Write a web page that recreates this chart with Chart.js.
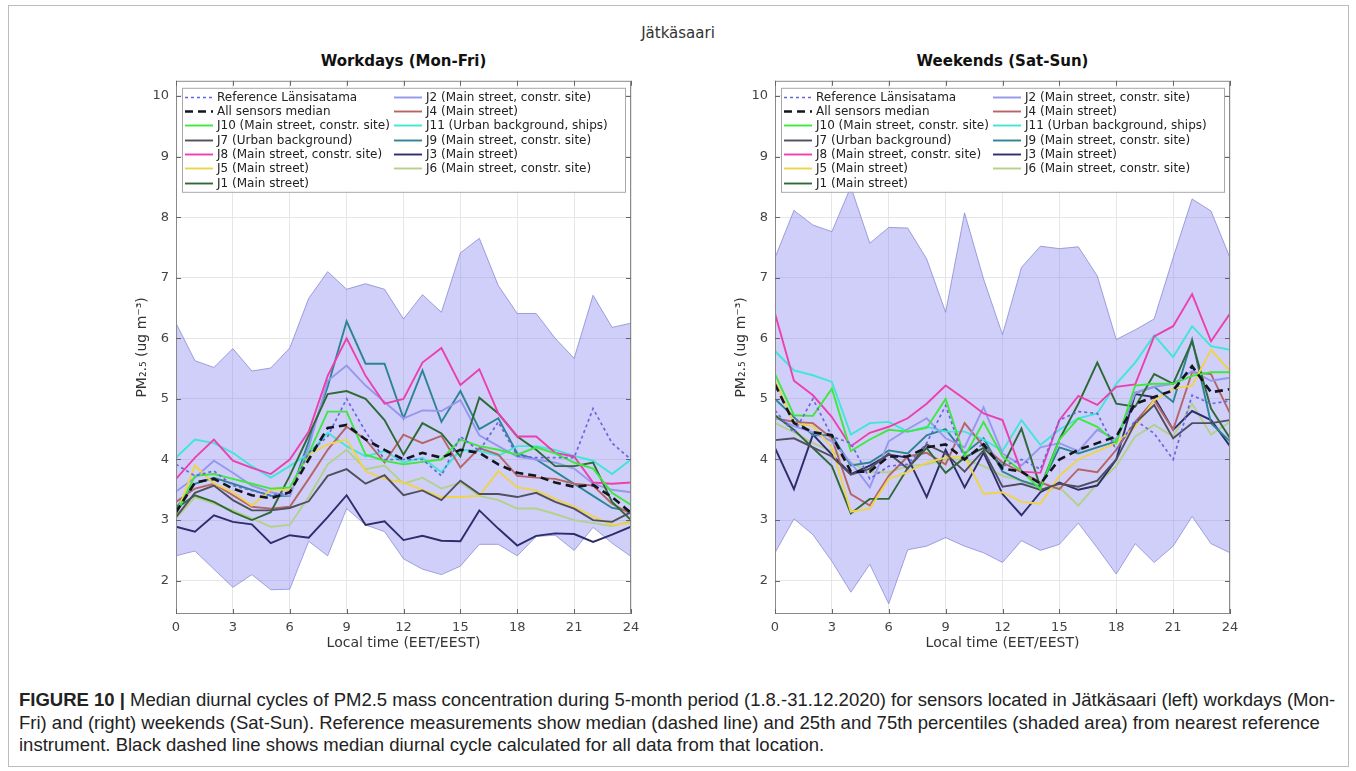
<!DOCTYPE html>
<html>
<head>
<meta charset="utf-8">
<title>Jätkäsaari diurnal cycles</title>
<script src="https://cdn.jsdelivr.net/npm/chart.js"></script>
<style>
    body {
        margin: 0;
        background: #fff;
        width: 1356px;
        height: 771px;
        position: relative;
        overflow: hidden;
        font-family: "DejaVu Sans", sans-serif;
    }

    .frame {
        position: absolute;
        left: 8px;
        top: 5px;
        width: 1339px;
        height: 760px;
        border: 1px solid #bcbcbc;
    }

    .title {
        position: absolute;
        left: 0;
        top: 24px;
        width: 1356px;
        text-align: center;
        font-size: 15px;
        line-height: 18px;
        color: #333;
    }

    .subtitle {
        position: absolute;
        top: 52px;
        width: 455px;
        text-align: center;
        font-size: 15px;
        line-height: 18px;
        font-weight: bold;
        color: #111;
    }

    .plot {
        position: absolute;
        top: 66px;
    }

    .caption {
        position: absolute;
        left: 19px;
        top: 689px;
        font-family: "Liberation Sans Narrow", "Liberation Sans", sans-serif;
        font-size: 18.5px;
        line-height: 22.5px;
        color: #222;
        white-space: nowrap;
    }
</style>
</head>

<body>
    <div class="frame"></div>
    <div class="title">Jätkäsaari</div>
    <div class="subtitle" style="left:176px">Workdays (Mon-Fri)</div>
    <div class="subtitle" style="left:775px">Weekends (Sat-Sun)</div>

    <canvas id="workdays" class="plot" style="left:80px" width="570" height="600"></canvas>
    <canvas id="weekends" class="plot" style="left:679px" width="570" height="600"></canvas>

    <div class="caption">
        <div><b>FIGURE 10 |</b> Median diurnal cycles of PM2.5 mass concentration during 5-month period (1.8.-31.12.2020) for sensors located in Jätkäsaari (left) workdays (Mon-</div>
        <div>Fri) and (right) weekends (Sat-Sun). Reference measurements show median (dashed line) and 25th and 75th percentiles (shaded area) from nearest reference</div>
        <div>instrument. Black dashed line shows median diurnal cycle calculated for all data from that location.</div>
    </div>

<script>
    // hours of the day and tick labels
    const hours = [0,1,2,3,4,5,6,7,8,9,10,11,12,13,14,15,16,17,18,19,20,21,22,23,24];
    const xTicks = [0,3,6,9,12,15,18,21,24];
    const yTicks = [2,3,4,5,6,7,8,9,10];

    const refLabel = 'Reference Länsisatama';
    const medianLabel = 'All sensors median';
    // legend order: first column then second column
    const sensorLabels = [
        'J10 (Main street, constr. site)',
        'J7 (Urban background)',
        'J8 (Main street, constr. site)',
        'J5 (Main street)',
        'J1 (Main street)',
        'J2 (Main street, constr. site)',
        'J4 (Main street)',
        'J11 (Urban background, ships)',
        'J9 (Main street, constr. site)',
        'J3 (Main street)',
        'J6 (Main street, constr. site)'
    ];

    // ---- workdays (Mon-Fri) ----
    const refW   = [3.92,3.73,3.81,3.57,3.49,3.41,3.46,4.11,4.38,5.00,4.46,4.00,4.00,4.00,3.73,4.38,4.14,4.62,4.06,4.03,4.03,4.03,4.84,4.27,4.00];
    const medW   = [3.13,3.62,3.68,3.52,3.41,3.36,3.46,4.00,4.52,4.57,4.33,4.16,4.00,4.11,4.03,4.16,4.11,3.92,3.78,3.73,3.62,3.55,3.58,3.38,3.12];
    const j10W   = [3.10,3.73,3.76,3.68,3.60,3.52,3.54,4.10,4.79,4.79,4.08,3.98,3.92,3.96,4.00,4.33,4.22,4.16,4.08,4.20,4.10,3.95,3.85,3.45,3.25];
    const j7W    = [3.05,3.45,3.57,3.33,3.16,3.16,3.20,3.31,3.73,3.84,3.60,3.74,3.41,3.49,3.33,3.65,3.43,3.43,3.38,3.45,3.30,3.19,3.00,2.97,3.13];
    const j8W    = [3.68,4.03,4.33,3.98,3.86,3.76,4.00,4.46,5.38,6.00,5.38,4.92,5.00,5.60,5.84,5.23,5.49,4.76,4.38,4.38,4.11,4.05,3.62,3.60,3.62];
    const j5W    = [3.08,3.90,3.60,3.46,3.24,3.50,3.50,4.08,4.25,4.33,3.81,3.68,3.62,3.50,3.38,3.38,3.40,3.81,3.54,3.49,3.35,3.22,3.06,2.92,2.95];
    const j1W    = [3.19,3.41,3.30,3.13,3.00,3.13,3.73,4.40,5.08,5.13,5.00,4.65,4.08,4.60,4.43,4.05,5.02,4.76,4.38,4.16,3.89,3.89,3.95,3.30,3.00];
    const j2W    = [3.47,3.70,3.98,3.78,3.57,3.46,3.40,4.20,5.30,5.55,5.22,4.95,4.68,4.81,4.80,4.98,4.40,4.22,4.05,4.00,3.95,3.85,3.60,3.50,3.46];
    const j4W    = [3.30,3.52,3.60,3.41,3.22,3.19,3.22,3.68,4.16,4.54,4.33,3.95,4.41,4.27,4.39,3.87,4.19,4.08,3.73,3.70,3.68,3.60,3.57,3.27,3.10];
    const j11W   = [4.03,4.33,4.27,4.11,3.89,3.70,3.89,4.10,4.44,4.22,4.05,4.14,3.95,4.03,3.79,4.16,4.14,4.06,4.22,4.22,4.16,4.06,3.98,3.76,4.00];
    const j9W    = [3.20,3.60,3.70,3.60,3.50,3.40,3.40,4.30,5.20,6.28,5.58,5.58,4.68,5.47,4.62,5.13,4.50,4.68,4.10,4.00,3.80,3.60,3.40,3.20,3.15];
    const j3W    = [2.89,2.81,3.08,2.97,2.93,2.62,2.75,2.71,3.05,3.41,2.92,2.98,2.67,2.74,2.66,2.65,3.16,2.86,2.58,2.74,2.78,2.77,2.64,2.76,2.89];
    const j6W    = [3.03,3.38,3.27,3.16,3.03,2.89,2.92,3.38,3.92,4.16,3.84,3.90,3.60,3.70,3.52,3.62,3.40,3.33,3.19,3.19,3.10,3.00,2.95,2.90,2.98];
    const p75W   = [6.25,5.63,5.52,5.83,5.46,5.51,5.84,6.66,7.10,6.81,6.90,6.81,6.32,6.72,6.43,7.41,7.65,6.87,6.41,6.41,6.00,5.67,6.71,6.18,6.25];
    const p25W   = [2.41,2.49,2.19,1.89,2.10,1.85,1.86,2.65,2.41,3.19,2.92,2.81,2.36,2.19,2.10,2.24,2.60,2.60,2.41,2.73,2.75,2.50,2.88,2.62,2.40];

    // ---- weekends (Sat-Sun) ----
    const refE   = [4.81,4.44,5.00,4.38,4.27,3.68,3.89,3.92,4.27,4.89,4.00,4.27,3.89,4.00,3.84,4.65,4.79,4.76,4.16,4.65,4.43,4.00,5.06,4.92,4.97];
    const medE   = [5.24,4.60,4.45,4.40,3.80,3.80,4.05,4.05,4.20,4.25,4.00,4.25,3.85,3.80,3.60,4.00,4.16,4.27,4.38,4.92,5.03,5.14,5.54,5.11,5.16];
    const j10E   = [5.41,4.73,4.72,5.17,4.14,4.33,4.49,4.46,4.52,5.00,4.05,4.62,4.05,3.81,3.51,4.33,4.68,4.54,4.27,5.22,5.25,5.25,5.38,5.44,5.44];
    const j7E    = [4.32,4.35,4.20,4.05,3.75,3.85,4.10,3.85,4.25,4.10,3.80,4.15,3.55,3.60,3.50,3.60,3.55,3.65,4.00,4.60,4.90,4.35,4.60,4.60,4.65];
    const j8E    = [6.41,5.30,5.06,4.70,4.22,4.44,4.54,4.68,4.92,5.22,5.00,4.76,4.65,3.80,3.78,4.65,5.05,4.90,5.20,5.24,6.03,6.20,6.73,5.95,6.41];
    const j5E    = [5.30,4.60,4.55,4.20,3.14,3.19,3.68,3.79,3.95,4.03,4.05,3.43,3.46,3.30,3.27,3.73,4.00,4.14,4.27,4.54,4.98,5.17,5.22,5.81,5.46];
    const j1E    = [4.73,4.49,4.19,3.89,3.11,3.35,3.35,3.86,4.19,3.78,4.03,4.19,3.89,4.51,3.54,4.33,4.92,5.60,4.92,4.87,5.41,5.25,5.95,4.84,4.35];
    const j2E    = [4.70,4.55,4.45,4.30,3.95,3.54,4.30,4.50,4.68,4.35,4.20,4.86,4.10,3.90,4.20,4.27,4.14,4.49,4.33,5.10,5.20,5.25,5.46,5.30,5.35];
    const j4E    = [4.68,4.62,4.60,4.35,3.43,3.24,3.73,4.05,4.11,3.92,4.60,4.22,3.95,3.79,3.62,3.51,3.84,3.79,4.16,4.62,4.98,4.49,5.44,5.41,4.76];
    const j11E   = [5.79,5.47,5.39,5.28,4.41,4.60,4.62,4.46,4.54,4.46,4.46,4.33,4.14,4.65,4.24,4.49,4.68,4.76,5.25,5.60,6.05,5.69,6.20,5.87,5.81];
    const j9E    = [5.00,4.70,4.40,4.40,3.90,3.95,4.15,4.10,4.40,4.50,4.10,4.35,3.80,3.65,3.55,4.20,4.10,4.20,4.30,5.10,5.20,4.95,5.98,4.60,4.30];
    const j3E    = [4.19,3.51,4.41,4.08,3.76,3.90,4.08,4.03,3.38,4.16,3.54,4.11,3.43,3.08,3.46,3.62,3.50,3.57,4.00,5.08,5.03,4.49,4.80,4.65,4.22];
    const j6E    = [4.60,4.45,4.27,4.14,3.95,3.79,3.79,3.89,3.92,4.00,4.00,3.89,3.73,3.65,3.49,3.54,3.24,3.60,3.89,4.38,4.57,4.38,4.92,4.41,4.62];
    const p75E   = [7.33,8.11,7.87,7.76,8.50,7.57,7.83,7.82,7.31,6.43,8.07,6.98,6.06,7.17,7.52,7.48,7.51,7.03,5.98,6.14,6.32,7.33,8.30,8.10,7.33];
    const p25E   = [2.46,3.02,2.76,2.32,1.81,2.27,1.62,2.51,2.57,2.71,2.57,2.46,2.30,2.66,2.50,2.60,2.95,2.54,2.11,2.61,2.30,2.57,3.06,2.61,2.46];

    // line colours, same order as sensorLabels
    const sensorColors = ['#3ee83e', '#4f4f5e', '#ec40ae', '#f0d448', '#2f6a36',
                          '#9797ee', '#b56565', '#40e6d6', '#2c8494', '#2d2d6c', '#b3d189'];

    function series(label, vals, color, width, dash, order) {
        return {
            label: label,
            data: hours.map((h, i) => ({ x: h, y: vals[i] })),
            borderColor: color,
            borderWidth: width,
            borderDash: dash,
            pointRadius: 0,
            tension: 0,
            fill: false,
            order: order
        };
    }

    function buildDatasets(ref, med, sensors, p75, p25) {
        var sets = [];
        sets.push(series(refLabel, ref, '#6767e0', 1.7, [3, 3], 1));
        sets.push(series(medianLabel, med, '#15151f', 2.6, [8, 5], 0));
        for (var i = 0; i < sensors.length; i++) {
            sets.push(series(sensorLabels[i], sensors[i], sensorColors[i], 1.9, [], 2));
        }
        // shaded 25th-75th percentile area of the reference instrument
        var upper = series('p75', p75, 'rgba(125,125,205,0.7)', 1, [], 10);
        upper.fill = '+1';
        upper.backgroundColor = 'rgba(140,140,240,0.42)';
        upper.legendSkip = true;
        var lower = series('p25', p25, 'rgba(125,125,205,0.7)', 1, [], 10);
        lower.legendSkip = true;
        sets.push(upper, lower);
        return sets;
    }

    // axes box with inward tick marks, then the two-column legend
    const axesAndLegend = {
        id: 'axesAndLegend',
        afterDatasetsDraw(chart) {
            const ctx = chart.ctx;
            const a = chart.chartArea;
            const xs = chart.scales.x, ys = chart.scales.y;
            ctx.save();
            ctx.strokeStyle = '#8a8a8a';
            ctx.lineWidth = 1;
            ctx.strokeRect(a.left + 0.5, a.top + 0.5, a.right - a.left - 1, a.bottom - a.top - 1);
            ctx.strokeStyle = '#666';
            ctx.beginPath();
            xTicks.forEach(v => {
                const px = Math.round(xs.getPixelForValue(v)) + 0.5;
                ctx.moveTo(px, a.bottom); ctx.lineTo(px, a.bottom - 5);
                ctx.moveTo(px, a.top); ctx.lineTo(px, a.top + 5);
            });
            yTicks.forEach(v => {
                const py = Math.round(ys.getPixelForValue(v)) + 0.5;
                ctx.moveTo(a.left, py); ctx.lineTo(a.left + 5, py);
                ctx.moveTo(a.right, py); ctx.lineTo(a.right - 5, py);
            });
            ctx.stroke();

            const items = chart.data.datasets.filter(d => !d.legendSkip);
            const x0 = a.left + 6, y0 = a.top + 7;
            const w = a.right - a.left - 12, h = 104;
            ctx.fillStyle = '#fff';
            ctx.fillRect(x0, y0, w, h);
            ctx.strokeStyle = '#a8a8a8';
            ctx.strokeRect(x0 + 0.5, y0 + 0.5, w, h);
            ctx.font = '12px "DejaVu Sans"';
            ctx.textBaseline = 'middle';
            items.forEach((d, i) => {
                const col = i < 7 ? 0 : 1;
                const row = col ? i - 7 : i;
                const lx = x0 + 3 + col * 209;
                const ly = Math.round(y0 + 9 + row * 14.3) + 0.5;
                ctx.strokeStyle = d.borderColor;
                ctx.lineWidth = d.borderWidth;
                ctx.setLineDash(d.borderDash);
                ctx.beginPath();
                ctx.moveTo(lx, ly);
                ctx.lineTo(lx + 28, ly);
                ctx.stroke();
                ctx.setLineDash([]);
                ctx.fillStyle = '#222';
                ctx.fillText(d.label, lx + 32, ly);
            });
            ctx.restore();
        }
    };

    function makeChart(id, datasets) {
        new Chart(document.getElementById(id), {
            type: 'line',
            data: { datasets: datasets },
            plugins: [axesAndLegend],
            options: {
                responsive: false,
                animation: false,
                layout: { padding: { top: 6, right: 19, left: 0, bottom: 0 } },
                plugins: { legend: { display: false }, tooltip: { enabled: false } },
                scales: {
                    x: {
                        type: 'linear',
                        min: 0,
                        max: 24,
                        afterBuildTicks: s => { s.ticks = xTicks.map(v => ({ value: v })); },
                        afterFit: s => { s.height = 52; },
                        grid: { color: '#e6e6e6', drawTicks: false },
                        border: { display: false },
                        ticks: { padding: 6, color: '#444', maxRotation: 0, autoSkip: false,
                                 font: { family: 'DejaVu Sans', size: 13 } },
                        title: { display: true, text: 'Local time (EET/EEST)', color: '#333',
                                 font: { family: 'DejaVu Sans', size: 14 }, padding: { top: 0, bottom: 14 } }
                    },
                    y: {
                        type: 'linear',
                        min: 1.45,
                        max: 10.25,
                        afterBuildTicks: s => { s.ticks = yTicks.map(v => ({ value: v })); },
                        afterFit: s => { s.width = 96; },
                        grid: { color: '#e6e6e6', drawTicks: false },
                        border: { display: false },
                        ticks: { padding: 7, color: '#444', font: { family: 'DejaVu Sans', size: 13 } },
                        title: { display: true, text: 'PM₂.₅ (ug m⁻³)', color: '#333',
                                 font: { family: 'DejaVu Sans', size: 14 }, padding: { top: 54, bottom: 0 } }
                    }
                }
            }
        });
    }

    makeChart('workdays', buildDatasets(refW, medW,
        [j10W, j7W, j8W, j5W, j1W, j2W, j4W, j11W, j9W, j3W, j6W], p75W, p25W));
    makeChart('weekends', buildDatasets(refE, medE,
        [j10E, j7E, j8E, j5E, j1E, j2E, j4E, j11E, j9E, j3E, j6E], p75E, p25E));
</script>
</body>
</html>
